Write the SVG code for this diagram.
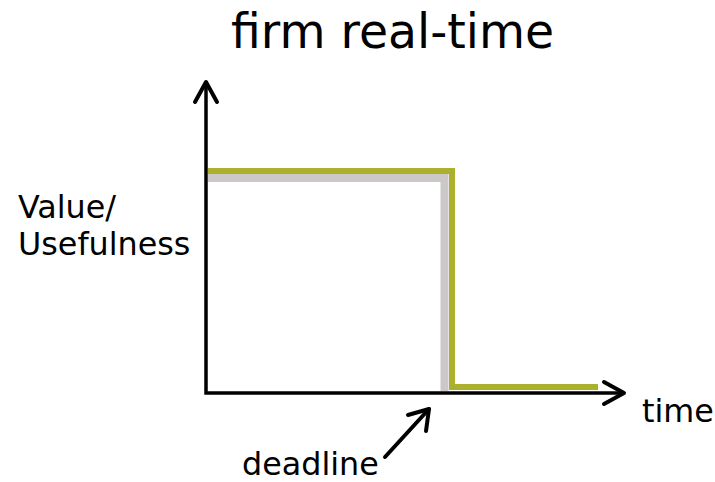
<svg xmlns="http://www.w3.org/2000/svg" width="715" height="482" viewBox="0 0 715 482">
<style>
text{font-family:"DejaVu Sans",sans-serif;fill:#000}
.lbl{font-size:31.8px}
.ax{fill:none;stroke:#000;stroke-width:3.5}
.arr{fill:none;stroke:#000;stroke-width:4;stroke-linecap:round;stroke-linejoin:round}
</style>
<rect width="715" height="482" fill="#fff"/>
<g id="curves">
<path d="M208,178 H444.5 V391" fill="none" stroke="#ccc8c8" stroke-width="8"/>
<path d="M208,171 H452 V387 H598" fill="none" stroke="#abb12d" stroke-width="6"/>
</g>
<g id="connectors">
<path class="ax" d="M206,82 V393 H623"/>
<path class="arr" d="M195,102 L206,82 L217,102"/>
<path class="arr" d="M604,382 L624,393 L604,404"/>
<path class="arr" d="M385,457 L429,409"/>
<path class="arr" d="M408,415 L429,409 L426,431"/>
</g>
<g id="labels">
<text x="231" y="48" font-size="47.3">firm real-time</text>
<text class="lbl" x="18" y="218">Value/</text>
<text class="lbl" x="18" y="255">Usefulness</text>
<text class="lbl" x="642" y="422">time</text>
<text class="lbl" x="242" y="475">deadline</text>
</g>
</svg>
